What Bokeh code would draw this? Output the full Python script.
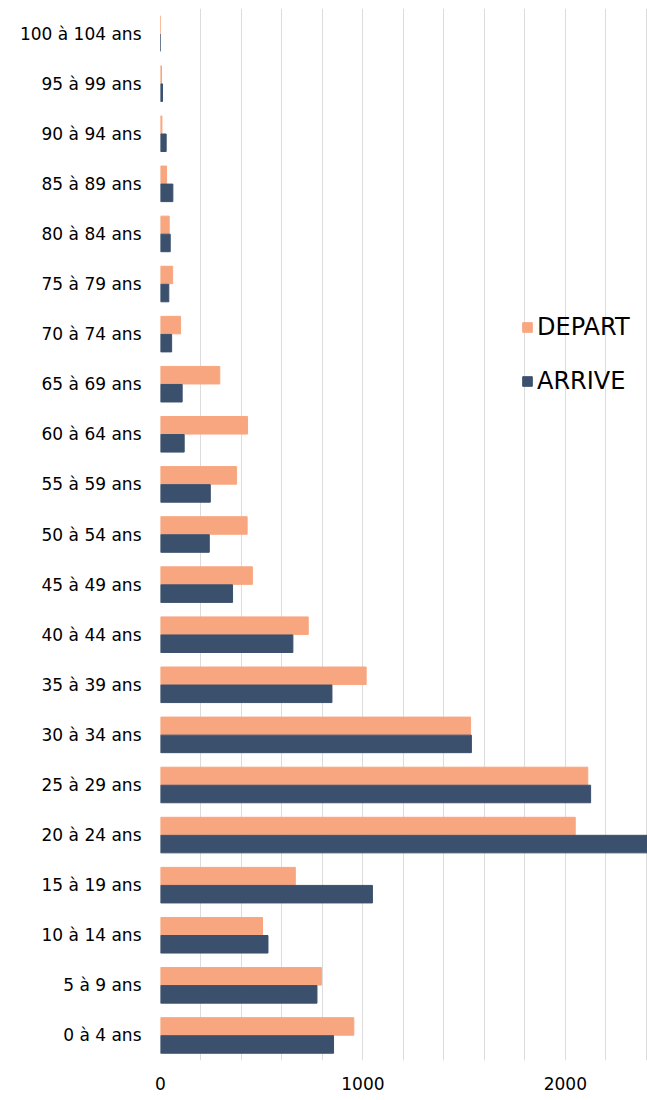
from bokeh.plotting import figure
from bokeh.models import FixedTicker, Legend, LegendItem, ColumnDataSource
from bokeh.transform import dodge
from bokeh.embed import file_html
from bokeh.resources import INLINE

# Age groups, youngest first (bottom of the chart)
ages = [
    "0 à 4 ans", "5 à 9 ans", "10 à 14 ans", "15 à 19 ans", "20 à 24 ans",
    "25 à 29 ans", "30 à 34 ans", "35 à 39 ans", "40 à 44 ans", "45 à 49 ans",
    "50 à 54 ans", "55 à 59 ans", "60 à 64 ans", "65 à 69 ans", "70 à 74 ans",
    "75 à 79 ans", "80 à 84 ans", "85 à 89 ans", "90 à 94 ans", "95 à 99 ans",
    "100 à 104 ans",
]
depart = [955, 795, 504, 666, 2049, 2111, 1532, 1016, 730, 454,
          428, 376, 430, 293, 99, 60, 43, 30, 7, 5, 0]
arrive = [855, 773, 531, 1047, 2450, 2125, 1536, 847, 654, 356,
          241, 246, 117, 107, 55, 41, 48, 61, 28, 10, 0]
x_ticks = [0, 1000, 2000]
grid_ticks = list(range(0, 2401, 200))

DEPART_COLOR = "#F8A680"
ARRIVE_COLOR = "#3B506C"
FONT = "DejaVu Sans"

src = ColumnDataSource(dict(age=ages, depart=depart, arrive=arrive))

p = figure(
    width=647, height=1100,
    y_range=ages, x_range=(0, 2406),
    output_backend="svg", toolbar_location=None,
    min_border_left=160, min_border_right=0,
    min_border_top=8, min_border_bottom=40,
)

r_dep = p.hbar(y=dodge("age", 0.18, range=p.y_range), right="depart", left=0,
               height=0.35, color=DEPART_COLOR, source=src)
r_arr = p.hbar(y=dodge("age", -0.18, range=p.y_range), right="arrive", left=0,
               height=0.35, color=ARRIVE_COLOR, source=src)

p.outline_line_color = None
p.background_fill_color = "white"

p.ygrid.grid_line_color = None
p.xgrid.ticker = FixedTicker(ticks=grid_ticks)
p.xgrid.grid_line_color = "#dcdcdc"
p.xgrid.grid_line_width = 1

p.xaxis.ticker = FixedTicker(ticks=x_ticks)
p.xaxis.axis_line_color = None
p.xaxis.major_tick_line_color = None
p.xaxis.minor_tick_line_color = None
p.xaxis.major_tick_out = 0
p.xaxis.major_tick_in = 0
p.xaxis.major_label_standoff = 16
p.xaxis.major_label_text_font = FONT
p.xaxis.major_label_text_font_size = "17px"
p.xaxis.major_label_text_color = "black"

p.yaxis.axis_line_color = None
p.yaxis.major_tick_line_color = None
p.yaxis.major_tick_out = 0
p.yaxis.major_tick_in = 0
p.yaxis.major_label_standoff = 19
p.yaxis.major_label_text_font = FONT
p.yaxis.major_label_text_font_size = "17px"
p.yaxis.major_label_text_color = "black"

legend = Legend(
    items=[LegendItem(label="DEPART", renderers=[r_dep]),
           LegendItem(label="ARRIVE", renderers=[r_arr])],
    location=(361, 665),
    glyph_width=12, glyph_height=12, label_height=26,
    label_text_font=FONT, label_text_font_size="24px",
    label_text_color="black", label_standoff=4,
    spacing=26, padding=0, margin=0,
    background_fill_alpha=0, border_line_color=None,
)
p.add_layout(legend)

open("out.html", "w").write(file_html(p, INLINE))
